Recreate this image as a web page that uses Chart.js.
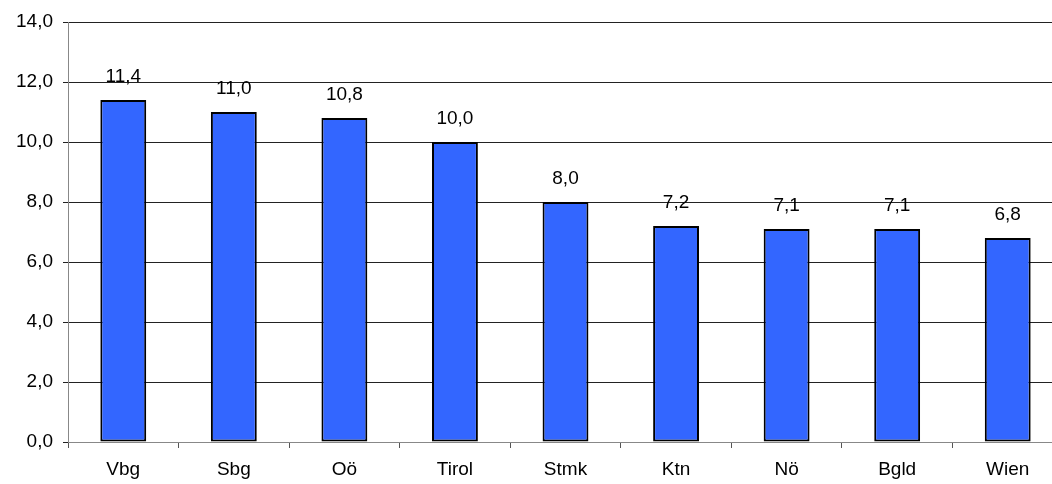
<!DOCTYPE html>
<html lang="de">
<head>
  <meta charset="UTF-8">
  <title>Bundesländer</title>
  <script src="https://cdn.jsdelivr.net/npm/chart.js"></script>
  <style>
    html, body { margin: 0; padding: 0; background: #fff; overflow: hidden; }
    #wrap { width: 1063px; height: 484px; }
  </style>
</head>
<body>
<div id="wrap"><canvas id="chart" width="1063" height="484"></canvas></div>
<script>
  const categories = ['Vbg', 'Sbg', 'Oö', 'Tirol', 'Stmk', 'Ktn', 'Nö', 'Bgld', 'Wien'];
  const values = [11.4, 11.0, 10.8, 10.0, 8.0, 7.2, 7.1, 7.1, 6.8];
  const yTicks = [0, 2, 4, 6, 8, 10, 12, 14];

  const fmt = v => v.toFixed(1).replace('.', ',');
  const FONT = 'Liberation Sans, Arial, sans-serif';

  const valueLabels = {
    id: 'valueLabels',
    afterDatasetsDraw(chart) {
      const ctx = chart.ctx;
      const meta = chart.getDatasetMeta(0);
      ctx.save();
      ctx.font = '19px ' + FONT;
      ctx.fillStyle = '#000';
      ctx.textAlign = 'center';
      ctx.textBaseline = 'alphabetic';
      meta.data.forEach((bar, i) => {
        ctx.fillText(fmt(values[i]), bar.x, bar.y - 18);
      });
      ctx.restore();
    }
  };

  new Chart(document.getElementById('chart'), {
    type: 'bar',
    data: {
      labels: categories,
      datasets: [{
        data: values,
        backgroundColor: '#3366FF',
        borderColor: '#000',
        borderWidth: 2,
        borderSkipped: false,
        barPercentage: 0.415,
        categoryPercentage: 1
      }]
    },
    options: {
      responsive: false,
      animation: false,
      layout: { padding: { top: 22, right: 0, left: 0, bottom: 0 } },
      plugins: { legend: { display: false }, tooltip: { enabled: false } },
      scales: {
        x: {
          grid: { offset: true, drawOnChartArea: false, drawTicks: true, tickLength: 6, color: '#555' },
          border: { color: '#888', width: 1 },
          ticks: { color: '#000', font: { family: FONT, size: 19 }, padding: 10 },
          afterFit: s => { s.height = 42; }
        },
        y: {
          min: 0,
          max: 14,
          afterBuildTicks: s => { s.ticks = yTicks.map(v => ({ value: v })); },
          grid: { color: '#222', tickLength: 5 },
          border: { color: '#888', width: 1 },
          ticks: { color: '#000', font: { family: FONT, size: 19 }, padding: 10, callback: v => fmt(v) },
          afterFit: s => { s.width = 68; }
        }
      }
    },
    plugins: [valueLabels]
  });
</script>
</body>
</html>
